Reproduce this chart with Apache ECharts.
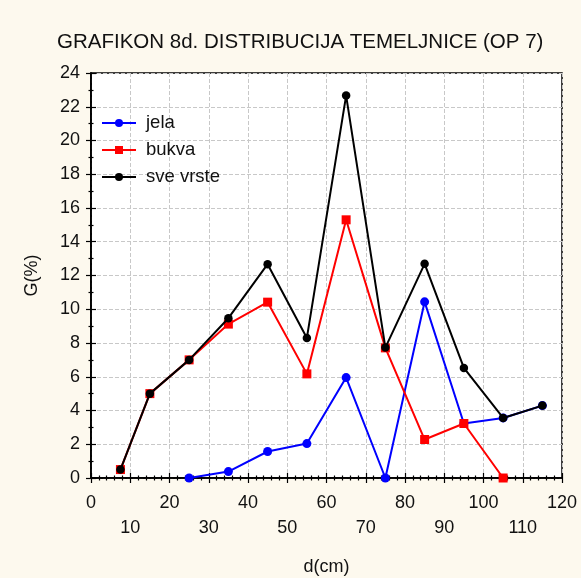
<!DOCTYPE html>
<html>
<head>
<meta charset="utf-8">
<script src="https://cdn.jsdelivr.net/npm/echarts@6/dist/echarts.min.js"></script>
<style>
html,body{margin:0;padding:0;background:#fdf9ee;}
#chart{width:581px;height:578px;}
</style>
</head>
<body>
<div id="chart"></div>
<script>
var diameters = [7.5, 15, 25, 35, 45, 55, 65, 75, 85, 95, 105, 115];
var jela      = [null, null, 0, 0.38, 1.57, 2.04, 5.95, 0, 10.44, 3.23, 3.56, 4.29];
var bukva     = [0.5, 5.0, 7.0, 9.12, 10.42, 6.17, 15.3, 7.71, 2.28, 3.23, 0, null];
var sveVrste  = [0.5, 5.0, 7.0, 9.47, 12.67, 8.3, 22.66, 7.73, 12.69, 6.52, 3.56, 4.29];
var seriesNames = ['jela', 'bukva', 'sve vrste'];
var titleText = 'GRAFIKON 8d. DISTRIBUCIJA TEMELJNICE (OP 7)';

function pairs(vals) {
  var out = [];
  for (var i = 0; i < diameters.length; i++) {
    if (vals[i] !== null) out.push([diameters[i], vals[i]]);
  }
  return out;
}

var font = 'Liberation Sans, Arial, sans-serif';
var chart = echarts.init(document.getElementById('chart'), null, {renderer: 'canvas'});

var option = {
  backgroundColor: '#fdf9ee',
  animation: false,
  title: {
    text: titleText,
    left: 52,
    top: 27,
    textStyle: {fontFamily: font, fontSize: 20.5, fontWeight: 'normal', color: '#111'}
  },
  legend: {
    orient: 'vertical',
    left: 101,
    top: 113.5,
    padding: 0,
    itemWidth: 34,
    itemHeight: 10,
    itemGap: 8,
    data: seriesNames,
    textStyle: {fontFamily: font, fontSize: 18.5, color: '#111', padding: [0, 0, 0, 5]}
  },
  grid: {
    left: 91, top: 73, width: 471, height: 405,
    outerBoundsMode: 'none', containLabel: false,
    show: true, backgroundColor: '#ffffff', borderColor: '#000', borderWidth: 1.5
  },
  xAxis: [{
    type: 'value', min: 0, max: 120, interval: 10,
    name: 'd(cm)', nameLocation: 'middle', nameGap: 80,
    nameTextStyle: {fontFamily: font, fontSize: 18, color: '#111'},
    axisLine: {show: true, lineStyle: {color: '#000', width: 1.5}},
    axisTick: {show: true, inside: true, length: 5, lineStyle: {color: '#000', width: 1.2}},
    minorTick: {show: true, splitNumber: 5, length: 2.5, lineStyle: {color: '#000', width: 1.2}},
    axisLabel: {
      fontFamily: font, fontSize: 18, color: '#111', margin: 12, lineHeight: 25.5,
      formatter: function (v) { return (v % 20 === 0) ? String(v) : '\n' + v; }
    },
    splitLine: {show: true, lineStyle: {color: '#c8c8c8', type: [4, 2], width: 1}}
  }, {
    type: 'value', min: 0, max: 120, interval: 10, position: 'top',
    axisLine: {show: true, lineStyle: {color: '#000', width: 1.5}},
    axisTick: {show: true, inside: true, length: 5, lineStyle: {color: '#000', width: 1.2}},
    minorTick: {show: true, splitNumber: 5, length: 2.5, lineStyle: {color: '#000', width: 1.2}},
    axisLabel: {show: false}, splitLine: {show: false}
  }],
  yAxis: [{
    type: 'value', min: 0, max: 24, interval: 2,
    name: 'G(%)', nameLocation: 'middle', nameGap: 50,
    nameTextStyle: {fontFamily: font, fontSize: 18, color: '#111'},
    axisLine: {show: true, lineStyle: {color: '#000', width: 1.5}},
    axisTick: {show: true, inside: true, length: 5, lineStyle: {color: '#000', width: 1.2}},
    minorTick: {show: true, splitNumber: 2, length: 2.5, lineStyle: {color: '#000', width: 1.2}},
    axisLabel: {fontFamily: font, fontSize: 18, color: '#111', margin: 11},
    splitLine: {show: true, lineStyle: {color: '#c8c8c8', type: [4, 2], width: 1}}
  }, {
    type: 'value', min: 0, max: 24, interval: 2, position: 'right',
    axisLine: {show: true, lineStyle: {color: '#000', width: 1.5}},
    axisTick: {show: true, inside: true, length: 5, lineStyle: {color: '#000', width: 1.2}},
    minorTick: {show: true, splitNumber: 2, length: 2.5, lineStyle: {color: '#000', width: 1.2}},
    axisLabel: {show: false}, splitLine: {show: false}
  }],
  series: [{
    name: seriesNames[0], type: 'line', data: pairs(jela),
    symbol: 'circle', symbolSize: 9, showAllSymbol: true,
    itemStyle: {color: '#0000ff'}, lineStyle: {color: '#0000ff', width: 2}, z: 2
  }, {
    name: seriesNames[1], type: 'line', data: pairs(bukva),
    symbol: 'rect', symbolSize: 9, showAllSymbol: true,
    itemStyle: {color: '#ff0000'}, lineStyle: {color: '#ff0000', width: 2}, z: 3
  }, {
    name: seriesNames[2], type: 'line', data: pairs(sveVrste),
    symbol: 'circle', symbolSize: 8.5, showAllSymbol: true,
    itemStyle: {color: '#000000'}, lineStyle: {color: '#000000', width: 2}, z: 4
  }]
};
chart.setOption(option);
</script>
</body>
</html>
